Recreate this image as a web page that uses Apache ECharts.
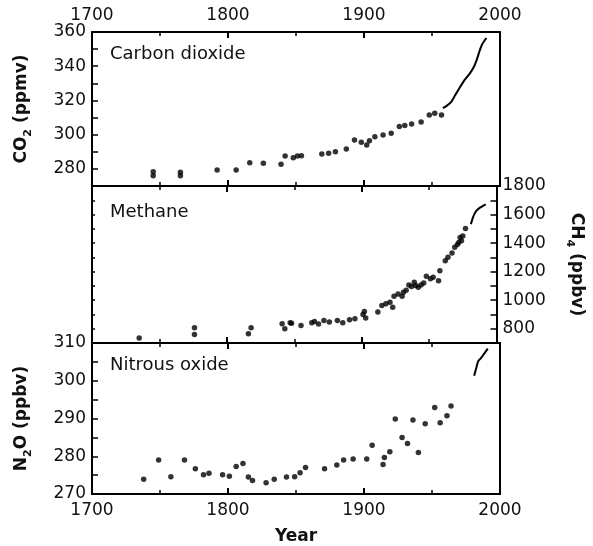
<!DOCTYPE html>
<html>
<head>
<meta charset="utf-8">
<script src="https://cdn.jsdelivr.net/npm/echarts@6/dist/echarts.min.js"></script>
<style>
  html, body { margin: 0; padding: 0; background: #fff; }
  #chart { width: 593px; height: 546px; }
</style>
</head>
<body>
<div id="chart"></div>
<script>
// Données (année, concentration)
const co2Ice = [
  [1745, 278.4], [1745, 276.0], [1765, 278.0], [1765, 276.0], [1792, 279.3],
  [1806, 279.3], [1816, 283.6], [1826, 283.3], [1839, 282.7], [1842, 287.5],
  [1848, 286.5], [1851, 287.5], [1854, 287.7], [1869, 288.7], [1874, 289.1],
  [1879, 290.0], [1887, 291.6], [1893, 296.9], [1898, 295.5], [1902, 294.0],
  [1904, 296.5], [1908, 298.8], [1914, 299.8], [1920, 300.8], [1926, 304.7],
  [1930, 305.4], [1935, 306.2], [1942, 307.4], [1948, 311.5], [1952, 312.5],
  [1957, 311.5]
];
const co2Atmos = [
  [1958, 315.5], [1961, 317.0], [1964, 319.0], [1967, 323.0], [1970, 327.0],
  [1974, 332.0], [1978, 336.0], [1981, 340.0], [1983, 344.0], [1985, 349.0],
  [1987, 353.0], [1990, 356.5]
];
const ch4Ice = [
  [1735, 735], [1776, 807], [1776, 760], [1816, 765], [1818, 807],
  [1841, 835], [1843, 800], [1847, 842], [1848, 838], [1855, 823],
  [1863, 842], [1865, 851], [1868, 833], [1872, 858], [1876, 847],
  [1882, 858], [1886, 842], [1891, 863], [1895, 870], [1901, 900],
  [1902, 921], [1903, 875], [1912, 917], [1915, 963], [1918, 975],
  [1921, 986], [1923, 951], [1924, 1028], [1927, 1044], [1930, 1028],
  [1931, 1056], [1933, 1070], [1935, 1107], [1937, 1095], [1939, 1126],
  [1940, 1102], [1942, 1090], [1944, 1107], [1946, 1120], [1948, 1168],
  [1951, 1150], [1953, 1161], [1957, 1137], [1958, 1207], [1962, 1277],
  [1964, 1300], [1967, 1330], [1969, 1370], [1971, 1390], [1972, 1405],
  [1973, 1440], [1974, 1416], [1975, 1450], [1977, 1503]
];
const ch4Atmos = [
  [1981, 1533], [1983, 1590], [1985, 1625], [1988, 1650], [1992, 1672]
];
const n2oIce = [
  [1738, 273.9], [1749, 279.0], [1758, 274.6], [1768, 279.0], [1776, 276.7],
  [1782, 275.1], [1786, 275.5], [1796, 275.1], [1801, 274.7], [1806, 277.3],
  [1811, 278.1], [1815, 274.5], [1818, 273.6], [1828, 273.0], [1834, 273.9],
  [1843, 274.5], [1849, 274.6], [1853, 275.6], [1857, 277.0], [1871, 276.7],
  [1880, 277.7], [1885, 279.0], [1892, 279.3], [1902, 279.3], [1906, 282.9],
  [1914, 277.8], [1915, 279.7], [1919, 281.2], [1923, 289.9], [1928, 285.0],
  [1932, 283.4], [1936, 289.6], [1940, 281.0], [1945, 288.6], [1952, 292.9],
  [1956, 288.9], [1961, 290.7], [1964, 293.3]
];
const n2oAtmos = [
  [1981, 301.3], [1983, 304.0], [1984, 305.2], [1986, 306.0], [1988, 307.0], [1991, 308.5]
];

const yearTicks = [1700, 1800, 1900, 2000];

const font = 'DejaVu Sans';
const chartDom = document.getElementById('chart');
const chart = echarts.init(chartDom, null, { renderer: 'canvas' });

// axe x générique (haut ou bas d'un panneau)
function xAxe(grid, pos, labels) {
  return {
    type: 'value', gridIndex: grid, position: pos,
    min: yearTicks[0], max: yearTicks[yearTicks.length - 1], interval: 100,
    axisLine: { show: true, onZero: false, lineStyle: { color: '#000', width: 2 } },
    axisTick: { show: true, inside: true, length: 6, lineStyle: { color: '#000', width: 2 } },
    minorTick: { show: true, splitNumber: 2, length: 4, lineStyle: { color: '#000', width: 1.5 } },
    splitLine: { show: false },
    axisLabel: { show: labels, margin: 8, color: '#111', fontFamily: font, fontSize: 17, formatter: v => String(v) }
  };
}

const subStyle = { fontFamily: font, fontSize: 11, fontWeight: 'bold', color: '#111', lineHeight: 8, verticalAlign: 'bottom' };
const baseStyle = { fontFamily: font, fontSize: 17, fontWeight: 'bold', color: '#111', lineHeight: 24 };

function yAxe(grid, pos, min, max, step, labelEvery, name, gap, rotate, tickLen) {
  return {
    type: 'value', gridIndex: grid, position: pos, min: min, max: max, interval: step,
    axisLine: { show: true, onZero: false, lineStyle: { color: '#000', width: 2 } },
    axisTick: { show: tickLen > 0, inside: true, length: tickLen, lineStyle: { color: '#000', width: 1.5 } },
    splitLine: { show: false },
    axisLabel: {
      show: labelEvery > 0, margin: 6, color: '#111', fontFamily: font, fontSize: 17,
      formatter: v => (labelEvery > 0 && v % labelEvery === 0) ? String(v) : ''
    },
    name: name, nameLocation: 'middle', nameGap: gap, nameRotate: rotate,
    nameTextStyle: { rich: { b: baseStyle, s: subStyle } }
  };
}

const dots = { type: 'scatter', symbol: 'circle', symbolSize: 5.5, itemStyle: { color: '#000' } };
const line = { type: 'line', showSymbol: false, smooth: 0.2, lineStyle: { color: '#000', width: 2 } };

const option = {
  animation: false,
  backgroundColor: '#fff',
  grid: [
    { left: 92, right: 93, top: 32, height: 154 },
    { left: 92, right: 93, top: 186, height: 157 },
    { left: 92, right: 93, top: 343, height: 157 }
  ],
  xAxis: [
    xAxe(0, 'top', true), xAxe(0, 'bottom', false),
    xAxe(1, 'top', false), xAxe(1, 'bottom', false),
    xAxe(2, 'top', false),
    Object.assign(xAxe(2, 'bottom', true), {
      name: 'Year', nameLocation: 'middle', nameGap: 34,
      nameTextStyle: { fontFamily: font, fontSize: 17, fontWeight: 'bold', color: '#111' }
    })
  ],
  yAxis: [
    yAxe(0, 'left', 270, 360, 10, 20, '{b|CO}{s|2}{b| (ppmv)}', 58, 90, 6),
    yAxe(0, 'right', 270, 360, 10, 0, '', 0, 0, 0),
    yAxe(1, 'left', 700, 1800, 100, 0, '', 0, 0, 3),
    yAxe(1, 'right', 700, 1800, 100, 200, '{b|CH}{s|4}{b| (ppbv)}', 68, -90, 6),
    yAxe(2, 'left', 270, 310, 5, 10, '{b|N}{s|2}{b|O (ppbv)}', 58, 90, 6),
    yAxe(2, 'right', 270, 310, 5, 0, '', 0, 0, 0)
  ],
  graphic: [
    { type: 'text', left: 110, top: 45, style: { text: 'Carbon dioxide', font: '18px "DejaVu Sans"', fill: '#111' } },
    { type: 'text', left: 110, top: 203, style: { text: 'Methane', font: '18px "DejaVu Sans"', fill: '#111' } },
    { type: 'text', left: 110, top: 356, style: { text: 'Nitrous oxide', font: '18px "DejaVu Sans"', fill: '#111' } }
  ],
  series: [
    Object.assign({}, dots, { name: 'CO2 glace', xAxisIndex: 0, yAxisIndex: 0, data: co2Ice }),
    Object.assign({}, line, { name: 'CO2 atmos', xAxisIndex: 0, yAxisIndex: 0, data: co2Atmos }),
    Object.assign({}, dots, { name: 'CH4 glace', xAxisIndex: 2, yAxisIndex: 3, data: ch4Ice }),
    Object.assign({}, line, { name: 'CH4 atmos', xAxisIndex: 2, yAxisIndex: 3, data: ch4Atmos }),
    Object.assign({}, dots, { name: 'N2O glace', xAxisIndex: 4, yAxisIndex: 4, data: n2oIce }),
    Object.assign({}, line, { name: 'N2O atmos', xAxisIndex: 4, yAxisIndex: 4, data: n2oAtmos })
  ]
};

chart.setOption(option);
window.addEventListener('resize', () => { chart.resize(); });
</script>
</body>
</html>
